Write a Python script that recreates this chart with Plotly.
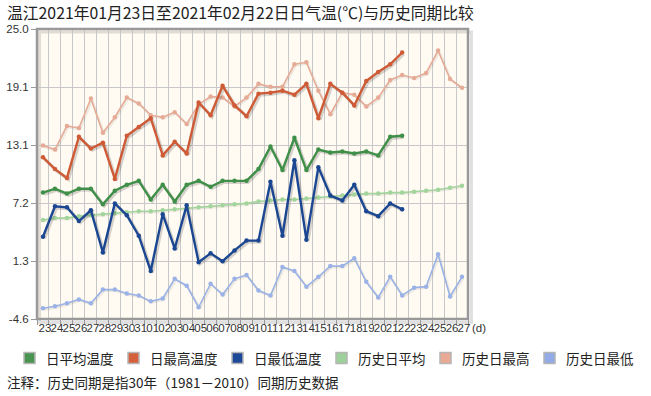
import plotly.graph_objects as go

# ---- data ----
day_labels = ["23", "24", "25", "26", "27", "28", "29", "30", "31",
              "01", "02", "03", "04", "05", "06", "07", "08", "09", "10",
              "11", "12", "13", "14", "15", "16", "17", "18", "19", "20",
              "21", "22", "23", "24", "25", "26", "27"]

avg_temp = [8.3, 8.7, 8.2, 8.7, 8.7, 7.1, 8.5, 9.1, 9.5, 7.6, 9.1, 7.4, 9.1, 9.5, 8.9, 9.5,
            9.5, 9.5, 10.7, 13.0, 10.6, 13.9, 10.6, 12.7, 12.4, 12.5, 12.3, 12.5, 12.1, 14.0, 14.1]
high_temp = [11.9, 10.7, 9.8, 14.0, 12.8, 13.4, 9.7, 14.1, 15.0, 15.9, 12.1, 13.5, 12.3, 17.5, 16.2, 19.2,
             17.2, 16.1, 18.4, 18.5, 18.7, 18.3, 19.4, 15.9, 19.4, 18.5, 17.2, 19.7, 20.6, 21.4, 22.6]
low_temp = [3.8, 6.9, 6.8, 5.4, 6.5, 2.2, 7.2, 6.0, 3.9, 0.3, 6.1, 2.6, 7.0, 1.2, 2.1, 1.3,
            2.4, 3.4, 3.4, 9.4, 3.9, 11.6, 3.5, 10.9, 8.0, 7.5, 9.1, 6.4, 5.9, 7.2, 6.6]

hist_avg = [5.5, 5.7, 5.7, 5.9, 6.0, 6.1, 6.2, 6.3, 6.4, 6.4, 6.5, 6.6, 6.7, 6.8, 6.9, 7.0, 7.1, 7.2,
            7.4, 7.5, 7.6, 7.6, 7.7, 7.8, 7.9, 8.0, 8.1, 8.2, 8.2, 8.3, 8.3, 8.4, 8.5, 8.6, 8.8, 9.0]
hist_high = [13.1, 12.7, 15.1, 14.9, 17.9, 14.4, 16.0, 18.0, 17.4, 16.2, 16.0, 16.5, 15.3, 17.3, 18.1, 18.0,
             17.1, 18.0, 19.4, 19.1, 19.1, 21.4, 21.6, 18.7, 16.3, 18.5, 18.3, 17.1, 18.0, 19.8, 20.3, 20.0,
             20.5, 22.8, 19.9, 19.0]
hist_low = [-3.5, -3.3, -3.0, -2.6, -3.0, -1.6, -1.6, -2.0, -2.2, -2.8, -2.5, -0.5, -1.2, -3.4, -1.0, -2.1,
            -0.5, -0.1, -1.7, -2.2, 0.7, 0.3, -1.3, -0.3, 0.8, 0.8, 1.6, -0.8, -2.4, -0.3, -2.2, -1.4,
            -1.3, 2.0, -2.3, -0.3]

y_tickvals = [-4.6, 1.32, 7.24, 13.16, 19.08, 25.0]
y_ticktext = ["-4.6", "1.3", "7.2", "13.1", "19.1", "25.0"]

title_text = "温江2021年01月23日至2021年02月22日日气温(℃)与历史同期比较"
note_text = "注释：历史同期是指30年（1981－2010）同期历史数据"
x_unit = "(d)"

series_hist = [
    ("历史日平均", hist_avg, "#a3d49c", "#9dd09a"),
    ("历史日最高", hist_high, "#e6ab96", "#e8aa94"),
    ("历史日最低", hist_low, "#9bb2e6", "#92abe6"),
]
series_main = [
    ("日平均温度", avg_temp, "#3f8f48", "#4a9452"),
    ("日最高温度", high_temp, "#cf5a36", "#d4603c"),
    ("日最低温度", low_temp, "#1b4792", "#1c4898"),
]

# ---- figure ----
W, H = 651, 396
L, R, T, B = 37, 468, 29, 319
fig = go.Figure()

xs_all = list(range(len(day_labels)))

for name, vals, col, _ in series_hist:
    xs = xs_all[:len(vals)]
    fig.add_trace(go.Scatter(x=[v + 0.1 for v in xs], y=[v - 0.12 for v in vals], mode="lines",
                             line=dict(color="rgba(0,0,0,0.07)", width=2.5),
                             hoverinfo="skip", showlegend=False))
    fig.add_trace(go.Scatter(x=xs, y=vals, mode="lines+markers", name=name,
                             line=dict(color=col, width=1.6),
                             marker=dict(color=col, size=4.5), showlegend=False))

for name, vals, col, _ in series_main:
    xs = xs_all[:len(vals)]
    fig.add_trace(go.Scatter(x=[v + 0.13 for v in xs], y=[v - 0.16 for v in vals], mode="lines",
                             line=dict(color="rgba(0,0,0,0.16)", width=3.2),
                             hoverinfo="skip", showlegend=False))
    fig.add_trace(go.Scatter(x=xs, y=vals, mode="lines+markers", name=name,
                             line=dict(color=col, width=2.4),
                             marker=dict(color=col, size=4.5), showlegend=False))

fig.update_xaxes(
    range=[-0.5, len(day_labels) - 0.5],
    tickmode="array", tickvals=xs_all, ticktext=day_labels,
    showgrid=False, ticks="", ticklabelshift=2, tickangle=0, automargin=False,
    tickfont=dict(family="Liberation Sans, Arial, sans-serif", size=11.5, color="#333"),
    minor=dict(tickmode="linear", tick0=-0.5, dtick=1, showgrid=True, gridcolor="#c8c8c8",
               gridwidth=1, ticks="outside", ticklen=5, tickcolor="#999"),
    showline=False, zeroline=False, fixedrange=True,
)
fig.update_yaxes(
    range=[-4.6, 25.0], tickmode="array", tickvals=y_tickvals, ticktext=y_ticktext,
    showgrid=True, gridcolor="#c8c8c8", gridwidth=1, ticks="outside", ticklen=5,
    tickcolor="#999", zeroline=False, showline=False, automargin=False,
    tickfont=dict(family="Liberation Sans, Arial, sans-serif", size=11.5, color="#333"),
    fixedrange=True,
)

shapes = []
# shadow + border of plot area
shapes.append(dict(type="rect", xref="paper", yref="paper", x0=0.006, x1=1.008, y0=-0.012, y1=0.99,
                   line=dict(color="rgba(0,0,0,0.12)", width=3), layer="below"))
shapes.append(dict(type="rect", xref="paper", yref="paper", x0=0, x1=1, y0=0, y1=1,
                   line=dict(color="#999999", width=2.5), layer="above"))


def px_x(px):
    return (px - L) / (R - L)


def px_y(py):
    return (B - py) / (B - T)


annotations = []
annotations.append(dict(text=title_text, xref="paper", yref="paper",
                        x=px_x(5), y=px_y(12), xanchor="left", yanchor="middle",
                        showarrow=False,
                        font=dict(family="Noto Sans CJK SC", size=15.8, color="#222")))
annotations.append(dict(text=note_text, xref="paper", yref="paper",
                        x=px_x(5), y=px_y(382), xanchor="left", yanchor="middle",
                        showarrow=False,
                        font=dict(family="Noto Sans CJK SC", size=13.5, color="#222")))
annotations.append(dict(text=x_unit, xref="paper", yref="paper",
                        x=px_x(470), y=px_y(328), xanchor="left", yanchor="middle",
                        showarrow=False,
                        font=dict(family="Liberation Sans, Arial, sans-serif", size=11.5, color="#333")))

legend_items = [(s[0], s[3]) for s in series_main] + [(s[0], s[3]) for s in series_hist]
for k, (name, col) in enumerate(legend_items):
    sx = 24 + 104 * k
    shapes.append(dict(type="rect", xref="paper", yref="paper",
                       x0=px_x(sx), x1=px_x(sx + 11),
                       y0=px_y(363.5), y1=px_y(352.5),
                       fillcolor=col, line=dict(color="#b5b5b5", width=1.5)))
    annotations.append(dict(text=name, xref="paper", yref="paper",
                            x=px_x(sx + 20), y=px_y(358),
                            xanchor="left", yanchor="middle", showarrow=False,
                            font=dict(family="Noto Sans CJK SC", size=13.5, color="#222")))

fig.update_layout(
    width=W, height=H,
    margin=dict(l=L, r=W - R, t=T, b=H - B),
    paper_bgcolor="white", plot_bgcolor="#fffbf2",
    shapes=shapes, annotations=annotations,
    showlegend=False,
)

fig.write_html("out.html", config={"displayModeBar": False},
               post_script="document.body.style.margin='0';document.body.style.overflow='hidden';")
